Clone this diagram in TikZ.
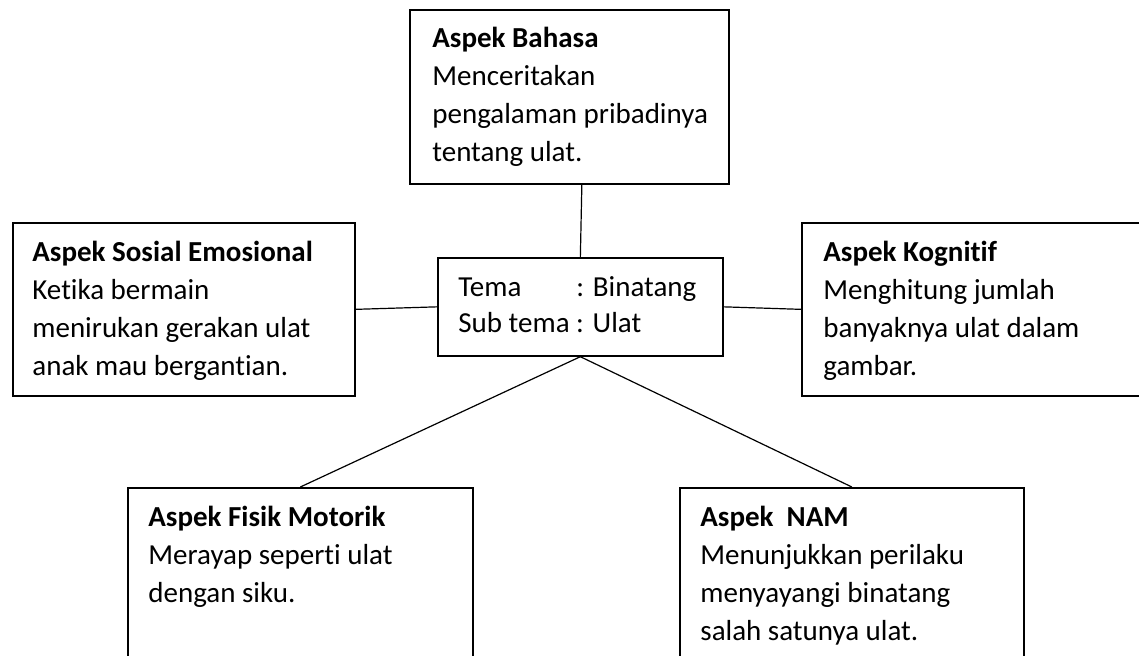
\documentclass[tikz,border=0pt]{standalone}
\usepackage{fontspec}
\setmainfont{Carlito}[Ligatures={NoCommon}]
\begin{document}
\begin{tikzpicture}[x=0.5pt,y=-0.5pt,
  boxshape/.style={draw=black, line width=0.85pt, inner sep=0pt, anchor=north west},
  txt/.style={anchor=north west, inner sep=0pt, align=left, font=\fontsize{14.5pt}{19pt}\selectfont},
  ctxt/.style={anchor=north west, inner sep=0pt, align=left, font=\fontsize{14.5pt}{18pt}\selectfont},
  link/.style={draw=black, line width=0.6pt}]
\useasboundingbox (0,0) rectangle (1139,656);
\clip (0,0) rectangle (1139,656);
% boxes
\node[boxshape, minimum width=159.5pt, minimum height=87pt] (bahasa) at (409,9) {};
\node[boxshape, minimum width=171pt, minimum height=86.5pt] (sosial) at (12,222) {};
\node[boxshape, minimum width=180pt, minimum height=86.5pt] (kognitif) at (801,222) {};
\node[boxshape, minimum width=142.5pt, minimum height=49pt] (center) at (437,257) {};
\node[boxshape, minimum width=172.5pt, minimum height=95pt] (fisik) at (127,487) {};
\node[boxshape, minimum width=172pt, minimum height=95pt] (nam) at (679,487) {};
% texts
\node[txt] (bahasaT) at (432,21) {\strut\textbf{Aspek Bahasa}\\Menceritakan\\pengalaman pribadinya\\tentang ulat.};
\node[txt] (sosialT) at (32,234.4) {\strut\textbf{Aspek Sosial Emosional}\\Ketika bermain\\menirukan gerakan ulat\\anak mau bergantian.};
\node[txt] (kognitifT) at (823,234.4) {\strut\textbf{Aspek Kognitif}\\Menghitung jumlah\\banyaknya ulat dalam\\gambar.};
\node[ctxt] (centerT) at (458,270.8) {\strut\makebox[4.07em][l]{Tema}: Binatang\\Sub tema : Ulat};
\node[txt] (fisikT) at (148,499.4) {\strut\textbf{Aspek Fisik Motorik}\\Merayap seperti ulat\\dengan siku.};
\node[txt] (namT) at (700,499.4) {\strut\textbf{Aspek\ \ NAM}\\Menunjukkan perilaku\\menyayangi binatang\\salah satunya ulat.};
% connectors
\draw[link] ([xshift=6.25pt]bahasa.south) -- (center.north);
\draw[link] (sosial.east) -- (center.west);
\draw[link] (center.east) -- (kognitif.west);
\draw[link] (center.south) -- (fisik.north);
\draw[link] (center.south) -- (nam.north);
\end{tikzpicture}
\end{document}
